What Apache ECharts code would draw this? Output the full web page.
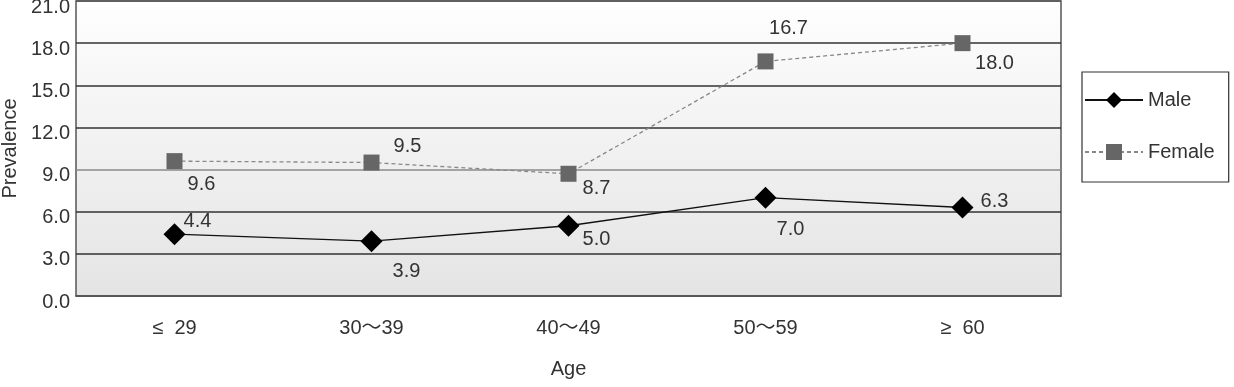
<!DOCTYPE html>
<html>
<head>
<meta charset="utf-8">
<script src="https://cdn.jsdelivr.net/npm/echarts@6/dist/echarts.min.js"></script>
<style>
  html, body { margin: 0; padding: 0; background: #fff; }
  #container { width: 1234px; height: 387px; }
</style>
</head>
<body>
<div id="container"></div>
<script>
// 연령별 유병률 (남/여)
var ages = ['≤  29', '30～39', '40～49', '50～59', '≥  60'];
var male = [4.4, 3.9, 5.0, 7.0, 6.3];
var female = [9.6, 9.5, 8.7, 16.7, 18.0];
var yTicks = [0, 3, 6, 9, 12, 15, 18, 21];

var dom = document.getElementById('container');
var myChart = echarts.init(dom);

// label offsets from the marker centre
var maleOff = [[23, -13], [35, 30], [28, 14], [25, 32], [32, -6]];
var femaleOff = [[27, 23], [36, -16], [28, 15], [23, -33], [32, 20]];

function withLabels(vals, offs) {
    return vals.map(function (v, i) {
        return {
            value: v,
            label: { offset: offs[i] }
        };
    });
}

var font = "'Liberation Sans', 'Noto Sans CJK KR', sans-serif";
var fs = 20;

var option = {
    backgroundColor: '#fff',
    animation: false,
    textStyle: { fontFamily: font },
    grid: {
        left: 76, right: 173, top: 1, bottom: 91,
        outerBoundsMode: 'none',
        containLabel: false,
        show: true,
        borderColor: '#555',
        borderWidth: 1.5,
        backgroundColor: new echarts.graphic.LinearGradient(0, 0, 0, 1, [
            { offset: 0, color: '#fefefe' },
            { offset: 1, color: '#e4e4e4' }
        ])
    },
    legend: {
        orient: 'vertical',
        left: 1082, top: 72,
        padding: [18, 14, 20, 2],
        itemGap: 32,
        itemWidth: 58,
        itemHeight: 20,
        borderColor: '#333',
        borderWidth: 1.2,
        backgroundColor: '#fff',
        textStyle: { fontSize: fs, color: '#333', fontFamily: font },
        data: ['Male', 'Female']
    },
    xAxis: {
        type: 'category',
        data: ages,
        name: 'Age',
        nameLocation: 'middle',
        nameGap: 63,
        nameTextStyle: { fontSize: fs, color: '#333' },
        axisLine: { lineStyle: { color: '#555', width: 1.5 } },
        axisTick: { inside: true, length: 9, lineStyle: { color: '#333', width: 1.2 } },
        axisLabel: { margin: 22, fontSize: fs, color: '#333' }
    },
    yAxis: {
        type: 'value',
        min: yTicks[0],
        max: yTicks[yTicks.length - 1],
        interval: 3,
        name: 'Prevalence',
        nameLocation: 'middle',
        nameGap: 49,
        nameTextStyle: { fontSize: fs, color: '#333' },
        axisLine: { show: false },
        axisTick: { show: false },
        axisLabel: {
            margin: 6,
            formatter: function (v) { return '{v|' + v.toFixed(1) + '}'; },
            rich: {
                v: { fontSize: fs, color: '#333', fontFamily: font, padding: [12, 0, 0, 0] }
            }
        },
        splitLine: {
            lineStyle: {
                color: ['#555', '#333', '#333', '#8a8a8a', '#333', '#333', '#333', '#555'],
                width: 1.5
            }
        }
    },
    series: [
        {
            name: 'Male',
            type: 'line',
            data: withLabels(male, maleOff),
            symbol: 'diamond',
            symbolSize: 22,
            itemStyle: { color: '#000' },
            lineStyle: { color: '#111', width: 1.3 },
            label: {
                show: true,
                position: 'inside',
                fontSize: fs,
                color: '#333',
                formatter: function (p) { return p.value.toFixed(1); }
            },
            z: 3
        },
        {
            name: 'Female',
            type: 'line',
            data: withLabels(female, femaleOff),
            symbol: 'rect',
            symbolSize: 16,
            itemStyle: { color: '#666' },
            lineStyle: { color: '#888', width: 1.3, type: [4, 3] },
            label: {
                show: true,
                position: 'inside',
                fontSize: fs,
                color: '#333',
                formatter: function (p) { return p.value.toFixed(1); }
            },
            z: 2
        }
    ]
};

myChart.setOption(option);
</script>
</body>
</html>
